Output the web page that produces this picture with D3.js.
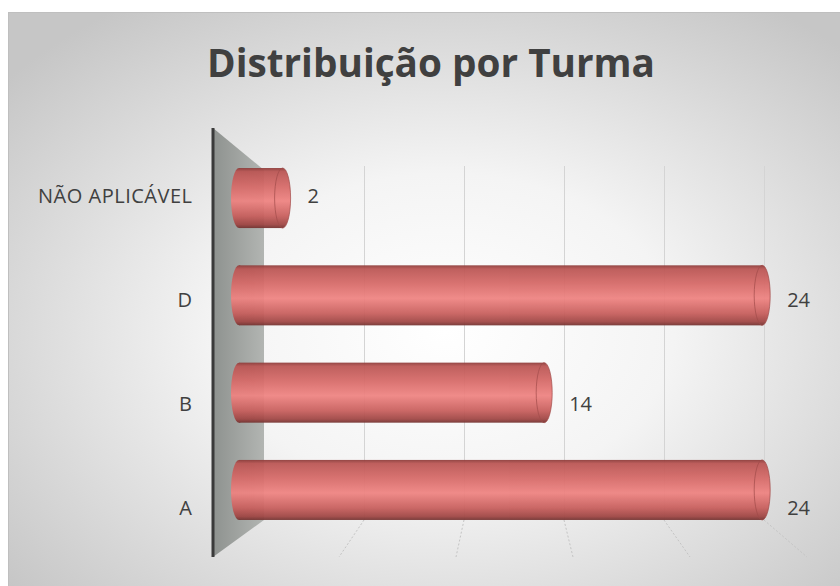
<!DOCTYPE html>
<html>
<head>
<meta charset="utf-8">
<script src="https://cdn.jsdelivr.net/npm/d3@7"></script>
<style>
  body { margin: 0; background: #fff; }
  text { font-family: "Open Sans", sans-serif; fill: #404040; }
</style>
</head>
<body>
<div id="chart"></div>
<script>
var categories = ["NÃO APLICÁVEL", "D", "B", "A"]
var values = [2, 24, 14, 24]
var gridTicks = [5, 10, 15, 20, 25]
var title = "Distribuição por Turma"

var width = 840, height = 586

var svg = d3.select('#chart').append('svg')
  .attr('width', width).attr('height', height)

var defs = svg.append('defs')

var bg = defs.append('radialGradient').attr('id', 'bg')
  .attr('cx', '52%').attr('cy', '55%').attr('r', '68%')
bg.append('stop').attr('offset', 0).attr('stop-color', '#ffffff')
bg.append('stop').attr('offset', 0.4).attr('stop-color', '#f4f4f4')
bg.append('stop').attr('offset', 1).attr('stop-color', '#c6c6c6')

var cyl = defs.append('linearGradient').attr('id', 'cyl')
  .attr('x1', 0).attr('y1', 0).attr('x2', 0).attr('y2', 1)
;[[0, '#8e3c3a'], [0.06, '#bb5654'], [0.3, '#d66a68'], [0.55, '#ef8482'],
  [0.8, '#c85f5d'], [0.94, '#a04644'], [1, '#733230']].forEach(function(s){
  cyl.append('stop').attr('offset', s[0]).attr('stop-color', s[1])
})

var wallGrad = defs.append('linearGradient').attr('id', 'wall')
  .attr('x1', 0).attr('y1', 0).attr('x2', 1).attr('y2', 0)
wallGrad.append('stop').attr('offset', 0).attr('stop-color', '#8e928f')
wallGrad.append('stop').attr('offset', 1).attr('stop-color', '#b2b5b2')

// frame
svg.append('rect')
  .attr('x', 8.5).attr('y', 12.5).attr('width', 840).attr('height', 580)
  .attr('fill', 'url(#bg)').attr('stroke', '#bfbfbf')

svg.append('text')
  .attr('x', 431).attr('y', 77)
  .attr('text-anchor', 'middle')
  .attr('font-size', 40).attr('font-weight', 700)
  .attr('textLength', 448).attr('lengthAdjust', 'spacingAndGlyphs')
  .text(title)

// depth planes of the 3d value axis
var xBack = d3.scaleLinear().domain([0, 25]).range([264, 764])
var xBar = d3.scaleLinear().domain([0, 25]).range([239, 784])
var xFloor = d3.scaleLinear().domain([0, 25]).range([222, 807])

var gridTop = 166, gridBottom = 520, floorY = 557, wallTop = 128, wallX = 213

var y = d3.scaleBand().domain(categories).range([149.4, 538.6])
  .paddingInner(0.383).paddingOuter(0.1915)
var yLabel = d3.scalePoint().domain(categories).range([196, 508])

// side wall
svg.append('path')
  .attr('d', d3.line()([[wallX, wallTop], [xBack(0), gridTop + 4],
    [xBack(0), gridBottom], [wallX, floorY]]))
  .attr('fill', 'url(#wall)')
svg.append('line')
  .attr('x1', wallX).attr('x2', wallX).attr('y1', wallTop).attr('y2', floorY)
  .attr('stroke', '#3a3a3a').attr('stroke-width', 3)

// grid
var grid = svg.append('g')
  .attr('transform', 'translate(0,' + gridBottom + ')')
  .call(d3.axisBottom(xBack).tickValues(gridTicks)
    .tickSize(-(gridBottom - gridTop)).tickFormat(''))
grid.select('.domain').remove()
grid.selectAll('.tick line').attr('stroke', '#d4d4d4')

svg.selectAll('line.floor').data(gridTicks).join('line')
  .attr('class', 'floor')
  .attr('x1', function(d){ return xBack(d) }).attr('y1', gridBottom)
  .attr('x2', function(d){ return xFloor(d) }).attr('y2', floorY)
  .attr('stroke', '#c4c4c4').attr('stroke-dasharray', '2,2')

// cylinders
var rx = 8
var bars = svg.selectAll('g.bar').data(values).join('g')
  .attr('class', 'bar').attr('opacity', 0.94)

bars.append('ellipse')
  .attr('cx', xBar(0)).attr('cy', function(d, i){ return y(categories[i]) + y.bandwidth() / 2 })
  .attr('rx', rx).attr('ry', y.bandwidth() / 2)
  .attr('fill', 'url(#cyl)')

bars.append('rect')
  .attr('x', xBar(0))
  .attr('y', function(d, i){ return y(categories[i]) })
  .attr('width', function(d){ return xBar(d) - xBar(0) })
  .attr('height', y.bandwidth())
  .attr('fill', 'url(#cyl)')

bars.append('ellipse')
  .attr('cx', function(d){ return xBar(d) })
  .attr('cy', function(d, i){ return y(categories[i]) + y.bandwidth() / 2 })
  .attr('rx', rx).attr('ry', y.bandwidth() / 2)
  .attr('fill', 'url(#cyl)')
  .attr('stroke', '#9c4240').attr('stroke-opacity', 0.7)

// category labels
var yAxis = svg.append('g')
  .attr('transform', 'translate(192,0)')
  .call(d3.axisLeft(yLabel).tickSize(0).tickPadding(0))
yAxis.select('.domain').remove()
yAxis.selectAll('text')
  .attr('font-size', 20).attr('font-family', '"Open Sans", sans-serif')
  .attr('fill', '#404040')
  .attr('textLength', function(d){ return d.length > 2 ? 154 : null })

// value labels
svg.selectAll('text.val').data(values).join('text')
  .attr('class', 'val')
  .attr('x', function(d){ return xBar(d) + rx + 17 })
  .attr('y', function(d, i){ return yLabel(categories[i]) })
  .attr('dy', '0.35em')
  .attr('font-size', 20)
  .text(function(d){ return d })
</script>
</body>
</html>
